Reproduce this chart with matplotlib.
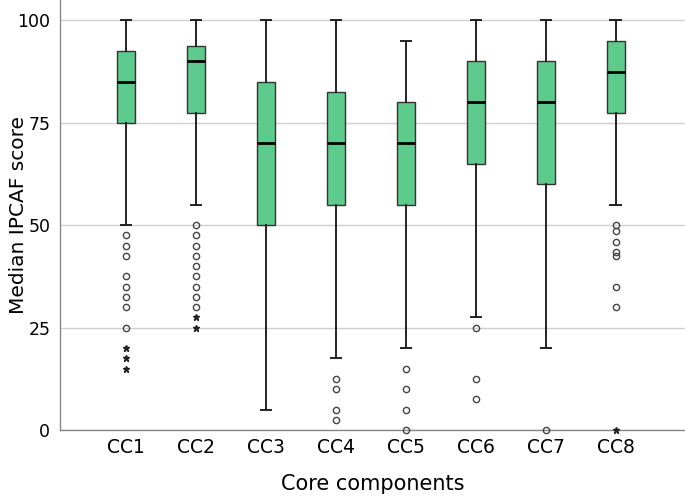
import numpy
from matplotlib import pyplot

# IPCAF core component scores
labels = ["CC1", "CC2", "CC3", "CC4", "CC5", "CC6", "CC7", "CC8"]
q1 = [75, 77.5, 50, 55, 55, 65, 60, 77.5]
median = [85, 90, 70, 70, 70, 80, 80, 87.5]
q3 = [92.5, 93.75, 85, 82.5, 80, 90, 90, 95]
whisk_lo = [50, 55, 5, 17.5, 20, 27.5, 20, 55]
whisk_hi = [100, 100, 100, 100, 95, 100, 100, 100]

# outliers (circles) and extreme values (stars)
circles = [
    [47.5, 45, 42.5, 37.5, 35, 32.5, 30, 25],
    [50, 47.5, 45, 42.5, 40, 37.5, 35, 32.5, 30],
    [],
    [12.5, 10, 5, 2.5],
    [15, 10, 5, 0],
    [25, 12.5, 7.5],
    [0],
    [50, 48.5, 46, 43.5, 42.5, 35, 30],
]
stars = [
    [20, 17.5, 15],
    [27.5, 25],
    [], [], [], [], [],
    [0],
]

box_color = "#5ccb8b"

fig = pyplot.figure(figsize=(6.85, 4.98), dpi=100)
ax = fig.add_axes([0.0876, 0.1365, 0.9124, 0.8635])

pos = numpy.arange(1, len(labels) + 1)
stats = []
for i in range(len(labels)):
    stats.append(dict(med=median[i], q1=q1[i], q3=q3[i],
                      whislo=whisk_lo[i], whishi=whisk_hi[i], fliers=[]))

ax.bxp(stats, positions=pos, widths=0.26, patch_artist=True,
       showfliers=False,
       boxprops=dict(facecolor=box_color, edgecolor="#333333", lw=1.0),
       medianprops=dict(color="black", lw=2.0),
       whiskerprops=dict(color="#222222", lw=1.4),
       capprops=dict(color="#222222", lw=1.4),
       capwidths=0.15, zorder=3)

for i in range(len(labels)):
    if circles[i]:
        ax.plot([pos[i]] * len(circles[i]), circles[i], "o", ms=4.5,
                mfc="none", mec="#444444", mew=1.0, zorder=4, clip_on=False)
    if stars[i]:
        ax.plot([pos[i]] * len(stars[i]), stars[i], "*", ms=5,
                color="#222222", zorder=4, clip_on=False)

ax.set_xlim(0.057, 8.99)
ax.set_ylim(0, 105)
ax.set_yticks([0, 25, 50, 75, 100])
ax.set_xticks(pos)
ax.set_xticklabels(labels)
ax.tick_params(length=0, labelsize=12.5, pad=6)
ax.tick_params(axis="x", labelsize=13.5)
ax.tick_params(axis="y", pad=7)
ax.yaxis.grid(color="#d0d0d0", lw=1.0, zorder=0)
ax.set_axisbelow(True)

for s in ["top", "right"]:
    ax.spines[s].set_visible(False)
for s in ["left", "bottom"]:
    ax.spines[s].set_color("#888888")
    ax.spines[s].set_linewidth(1.0)

ax.set_xlabel("Core components", fontsize=15, labelpad=12)
ax.set_ylabel("Median IPCAF score", fontsize=14.5)
ax.yaxis.set_label_coords(-0.052, 0.5)

pyplot.savefig("out.png", dpi=100)
